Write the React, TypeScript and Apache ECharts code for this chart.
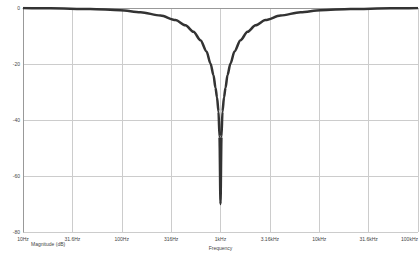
import React, { useEffect, useRef } from "react";
import * as echarts from "echarts";

// Frequency (Hz) and magnitude (dB)
const freqHz = [10, 19, 48, 97, 155, 247, 350, 442, 533, 627, 722, 792, 849, 890, 922, 955, 977, 1000, 1023, 1047, 1085, 1124, 1177, 1262, 1386, 1594, 1877, 2262, 2855, 4052, 6459, 10290, 20730, 52700, 100000];
const magDb = [0, -0.12, -0.35, -0.8, -1.5, -2.7, -4.3, -6.2, -8.5, -11.5, -15.5, -19.8, -24, -28.5, -32, -37, -46, -70, -46, -37, -32, -28.5, -24, -19.8, -15.5, -11.5, -8.5, -6.2, -4.3, -2.7, -1.5, -0.8, -0.35, -0.12, 0];
const yTicks = [0, -20, -40, -60, -80];
const xAxisName = "Frequency";
const yAxisName = "Magnitude (dB)";

function fmtHz(v: number): string {
  if (v >= 1000) {
    return parseFloat((v / 1000).toPrecision(3)).toString() + "kHz";
  }
  return parseFloat(v.toPrecision(3)).toString() + "Hz";
}

export default function App() {
  const ref = useRef<HTMLDivElement>(null);
  useEffect(() => {
    if (!ref.current) return;
    const chart = echarts.init(ref.current, null, { renderer: "svg" });
    const font = "Liberation Sans, Arial, sans-serif";
    chart.setOption({
      animation: false,
      backgroundColor: "#ffffff",
      grid: { left: 23, right: 2, top: 8, bottom: 26, containLabel: false, outerBoundsMode: "none" },
      xAxis: {
        type: "log",
        logBase: Math.sqrt(10),
        min: 10,
        max: 100000,
        interval: 1,
        splitNumber: 8,
        name: xAxisName,
        nameLocation: "middle",
        nameGap: 13,
        nameTextStyle: { fontSize: 5, color: "#444", fontFamily: font },
        axisLine: { show: true, lineStyle: { color: "#999", width: 1 } },
        axisTick: { show: false },
        minorTick: { show: false },
        axisLabel: {
          fontSize: 5,
          color: "#444",
          fontFamily: font,
          margin: 4,
          alignMaxLabel: "right",
          formatter: (v: number) => fmtHz(v),
        },
        splitLine: { show: true, lineStyle: { color: "#cccccc", width: 1 } },
      },
      yAxis: {
        type: "value",
        min: yTicks[yTicks.length - 1],
        max: yTicks[0],
        interval: 20,
        name: yAxisName,
        nameLocation: "start",
        nameGap: 9,
        nameTextStyle: { fontSize: 5, color: "#444", fontFamily: font, align: "left", padding: [0, 0, 0, 8] },
        axisLine: { show: true, lineStyle: { color: "#999", width: 1 } },
        axisTick: { show: false },
        axisLabel: { fontSize: 5, color: "#444", fontFamily: font, margin: 3 },
        splitLine: { show: true, lineStyle: { color: "#cccccc", width: 1 } },
      },
      series: [
        {
          type: "line",
          data: freqHz.map((f, i) => [f, magDb[i]]),
          showSymbol: false,
          smooth: 0.3,
          smoothMonotone: "x",
          lineStyle: { color: "#333333", width: 2.5 },
          clip: true,
        },
      ],
    });
    return () => chart.dispose();
  }, []);
  return <div ref={ref} style={{ position: "fixed", left: 0, top: 0, width: 420, height: 258 }} />;
}
